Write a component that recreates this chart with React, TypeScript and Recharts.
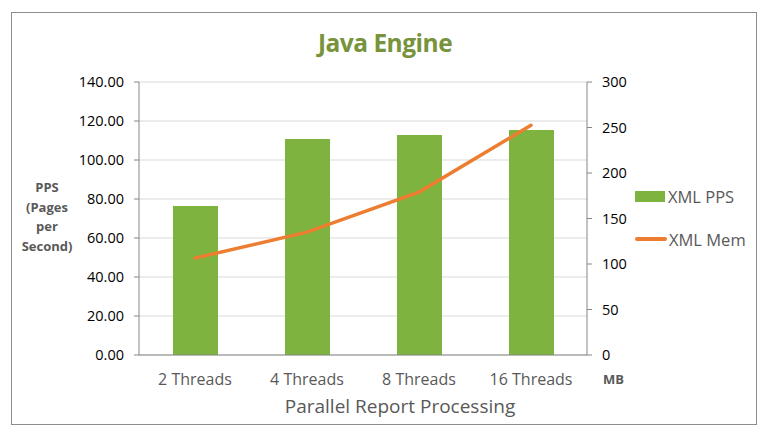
import {
  ComposedChart,
  Bar,
  Line,
  XAxis,
  YAxis,
  CartesianGrid,
} from "recharts";

const categories = ["2 Threads", "4 Threads", "8 Threads", "16 Threads"];
const xmlPps = [76.4, 110.8, 112.8, 115.4];
const xmlMem = [106.5, 135, 179, 252.5];
const leftTicks = [0, 20, 40, 60, 80, 100, 120, 140];
const rightTicks = [0, 50, 100, 150, 200, 250, 300];

const data = categories.map((name, i) => ({
  name,
  pps: xmlPps[i],
  mem: xmlMem[i],
}));

const FONT = "'Open Sans', 'Noto Sans', sans-serif";

// legend drawn as plain html so it doesn't squeeze the plot area
function LegendBox() {
  return (
    <div
      style={{
        position: "absolute",
        top: 172,
        left: 623,
        fontFamily: FONT,
        fontSize: 16.5,
        color: "#595959",
      }}
    >
      <div style={{ display: "flex", alignItems: "center", height: 22 }}>
        <span
          style={{ display: "inline-block", width: 30, height: 11, background: "#7db33e", marginRight: 3 }}
        />
        XML PPS
      </div>
      <div style={{ display: "flex", alignItems: "center", height: 22, marginTop: 21 }}>
        <span
          style={{ display: "inline-block", width: 32, height: 4, borderRadius: 2, background: "#ed7d31", marginRight: 2 }}
        />
        XML Mem
      </div>
    </div>
  );
}

export default function App() {
  return (
    <div
      style={{
        position: "relative",
        width: 744,
        height: 411,
        marginLeft: 3,
        marginTop: 4,
        border: "1px solid #8c8c8c",
        background: "#fff",
        fontFamily: FONT,
      }}
    >
      <div
        style={{
          position: "absolute",
          top: 13,
          left: 0,
          width: 746,
          textAlign: "center",
          fontSize: 24.5,
          fontWeight: 700,
          color: "#77933c",
          letterSpacing: -0.5,
        }}
      >
        Java Engine
      </div>
      <div
        style={{
          position: "absolute",
          top: 165,
          left: 0,
          width: 70,
          textAlign: "center",
          fontSize: 13,
          fontWeight: 700,
          color: "#595959",
          lineHeight: "19.5px",
        }}
      >
        PPS
        <br />
        (Pages
        <br />
        per
        <br />
        Second)
      </div>
      <div
        style={{
          position: "absolute",
          top: 357,
          left: 591,
          fontSize: 13,
          fontWeight: 700,
          color: "#595959",
        }}
      >
        MB
      </div>
      <div
        style={{
          position: "absolute",
          top: 380,
          left: 288,
          width: 200,
          textAlign: "center",
          fontSize: 19,
          color: "#595959",
          whiteSpace: "nowrap",
        }}
      >
        <span style={{ marginLeft: -50, marginRight: -50 }}>Parallel Report Processing</span>
      </div>
      <LegendBox />
      <ComposedChart
        width={744}
        height={411}
        data={data}
        margin={{ top: 69, right: 131, bottom: 8, left: 47 }}
      >
        <CartesianGrid yAxisId="left" vertical={false} stroke="#d9d9d9" />
        <XAxis
          dataKey="name"
          axisLine={{ stroke: "#868686" }}
          tickLine={false}
          tick={{ fill: "#595959", fontSize: 16, fontFamily: FONT }}
          height={61}
          tickMargin={13}
        />
        <YAxis
          yAxisId="left"
          domain={[0, 140]}
          ticks={leftTicks}
          width={80}
          axisLine={{ stroke: "#868686" }}
          tickLine={{ stroke: "#868686" }}
          tickSize={5}
          tickMargin={10}
          tick={{ fill: "#000", fontSize: 14.5, fontFamily: FONT }}
          tickFormatter={(v) => Number(v).toFixed(2)}
        />
        <YAxis
          yAxisId="right"
          orientation="right"
          domain={[0, 300]}
          ticks={rightTicks}
          width={38}
          axisLine={{ stroke: "#868686" }}
          tickLine={{ stroke: "#868686" }}
          tickSize={5}
          tickMargin={10}
          tick={{ fill: "#000", fontSize: 14.5, fontFamily: FONT, textAnchor: "start" }}
        />
        <Bar
          yAxisId="left"
          dataKey="pps"
          name="XML PPS"
          fill="#7db33e"
          barSize={45}
          isAnimationActive={false}
        />
        <Line
          yAxisId="right"
          type="linear"
          dataKey="mem"
          name="XML Mem"
          stroke="#ed7d31"
          strokeWidth={3.5}
          strokeLinecap="round"
          dot={false}
          isAnimationActive={false}
        />
      </ComposedChart>
    </div>
  );
}
